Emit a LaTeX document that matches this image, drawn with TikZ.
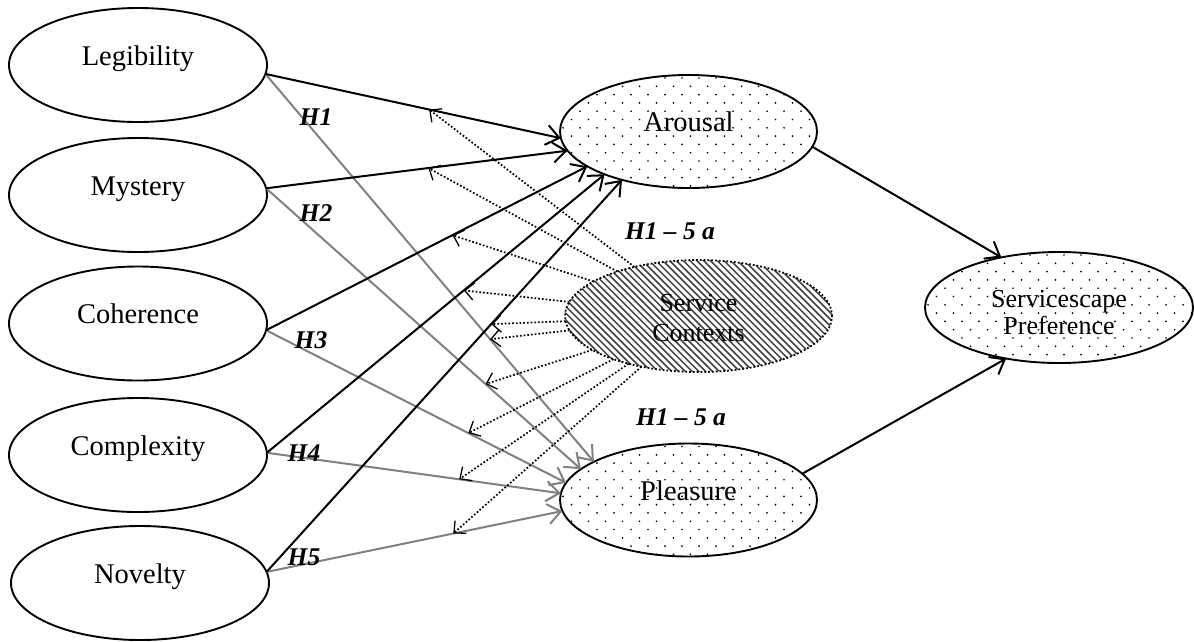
\documentclass[tikz,border=0pt]{standalone}
\usepackage{fontspec}
\setmainfont{Liberation Serif}
\usetikzlibrary{arrows.meta,shapes.geometric,calc}
\newcommand{\ztext}[1]{\raisebox{0pt}[0pt][0pt]{#1}}
\newcommand{\ztwo}[3]{\raisebox{#1}[0pt][0pt]{\begin{tabular}[t]{@{}c@{}}#2\\#3\end{tabular}}}
\begin{document}
\begin{tikzpicture}[x=1pt,y=-1pt,
  leftell/.style={ellipse, draw, line width=1.9pt, inner sep=0pt, outer sep=0pt,
    minimum width=258pt, minimum height=114pt, font=\fontsize{28.5}{30}\selectfont},
  dotell/.style={leftell, minimum width=257pt, minimum height=113pt,
    path picture={
      \foreach \j in {0,...,14} {
        \pgfmathsetmacro{\yy}{\j*8.3+3}
        \pgfmathsetmacro{\off}{mod(\j,2)*8.5+3}
        \foreach \i in {0,...,16} {
          \pgfmathsetmacro{\xx}{\i*17+\off}
          \fill (path picture bounding box.north west) ++(\xx,\yy) circle (0.95pt);
        }
      }
    }},
  hatchell/.style={ellipse, draw, dotted, line width=1.8pt, inner sep=0pt, outer sep=0pt,
    minimum width=267pt, minimum height=112pt, font=\fontsize{26}{30}\selectfont,
    path picture={
      \foreach \k in {-20,...,42} {
        \pgfmathsetmacro{\hx}{\k*6.8}
        \draw[solid, line width=1.5pt, black!75] (path picture bounding box.north west) ++(\hx,-2) -- ++(130,130);
      }
    }},
  blk/.style={line width=2pt, -{Straight Barb[length=13pt,width=20pt]}},
  gry/.style={blk, draw=gray},
  dotarr/.style={line width=1.7pt, dotted, -{Straight Barb[length=9pt,width=17pt,line width=1.3pt]}},
  hl/.style={inner sep=0pt, font=\fontsize{25.5}{27}\selectfont\bfseries\itshape}
]
\useasboundingbox (0,0) rectangle (1194,641);

% left constructs
\node[leftell] (leg) at (138,65) {\ztext{Legibility}};
\node[leftell] (mys) at (138,195) {\ztext{Mystery}};
\node[leftell] (coh) at (138,323.5) {\ztext{Coherence}};
\node[leftell] (com) at (138,455) {\ztext{Complexity}};
\node[leftell] (nov) at (140,583) {\ztext{Novelty}};

% mediators and outcome
\node[dotell] (ar) at (688.5,131.5) {\ztext{Arousal}};
\node[dotell] (pl) at (688.5,500) {\ztext{Pleasure}};
\node[hatchell] (sc) at (698.5,316) {\ztwo{5pt}{Service}{Contexts}};
\node[dotell, minimum width=268pt, minimum height=111pt, font=\fontsize{26}{27}\selectfont] (sp) at (1059,307.5) {\ztwo{0pt}{Servicescape}{Preference}};

% gray arrows to Pleasure
\draw[gry] (leg.-4.5) -- coordinate[pos=0.684] (g1) (pl.158.8);
\draw[gry] (mys.3) -- coordinate[pos=0.697] (g2) (pl.164.5);
\draw[gry] (coh.-3) -- coordinate[pos=0.674] (g3) (pl.172);
\draw[gry] (com.1) -- coordinate[pos=0.654] (g4) (pl.177.7);
\draw[gry] (nov.5) -- coordinate[pos=0.631] (g5) (pl.185.5);

% black arrows to Arousal
\draw[blk] (leg.-4.5) -- coordinate[pos=0.554] (b1) (ar.183);
\draw[blk] (mys.3) -- coordinate[pos=0.538] (b2) (ar.189);
\draw[blk] (coh.-3) -- coordinate[pos=0.58] (b3) (ar.199);
\draw[blk] (com.1) -- coordinate[pos=0.583] (b4) (ar.207);
\draw[blk] (nov.5) -- coordinate[pos=0.632] (b5) (ar.216);

% to outcome
\draw[blk] (ar.-7.7) -- (sp.139.4);
\draw[blk] (pl.13.7) -- (sp.224);

% moderation arrows
\foreach \t in {b1,b2,b3,b4,b5,g1,g2,g3,g4,g5} {
  \draw[dotarr] (sc) -- (\t);
}

% labels
\node[hl] (h1) at (316,117) {H1};
\node[hl] (h2) at (316,213) {H2};
\node[hl] (h3) at (311,340) {H3};
\node[hl] (h4) at (304,453) {H4};
\node[hl] (h5) at (304,557) {H5};
\node[hl] (ha) at (670,231) {H1 – 5 a};
\node[hl] (hb) at (681,417) {H1 – 5 a};
\end{tikzpicture}
\end{document}
